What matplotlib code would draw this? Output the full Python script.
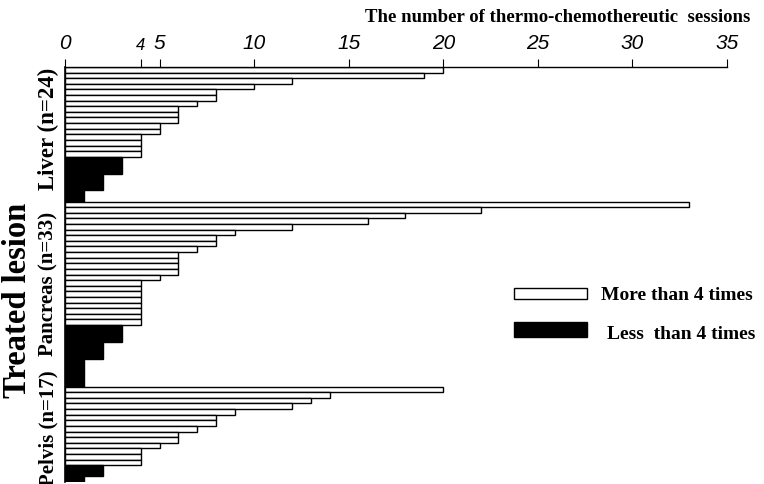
# Number of thermo-chemotherapeutic sessions per treated lesion.

import matplotlib.pyplot as plt
from matplotlib.patches import Rectangle

# sessions per lesion, sorted descending within each site
liver = [20, 19, 12, 10, 8, 8, 7, 6, 6, 6, 5, 5, 4, 4, 4, 4,
         3, 3, 3, 2, 2, 2, 1, 1]
pancreas = [33, 22, 18, 16, 12, 9, 8, 8, 7, 6, 6, 6, 6, 5,
            4, 4, 4, 4, 4, 4, 4, 4, 3, 3, 3, 2, 2, 2, 1, 1, 1, 1, 1]
pelvis = [20, 14, 13, 12, 9, 8, 8, 7, 6, 6, 5, 4, 4, 4, 2, 2, 1]

group_labels = ["Liver (n=24)", "Pancreas (n=33)", "Pelvis (n=17)"]
x_ticks = [0, 4, 5, 10, 15, 20, 25, 30, 35]
THRESHOLD = 4

SERIF = "Liberation Serif"
NARROW = ["Liberation Sans Narrow", "Liberation Sans", "DejaVu Sans"]


def plot_sessions():
    groups = [liver, pancreas, pelvis]
    values = [v for g in groups for v in g]
    positions = list(range(len(values)))

    fig = plt.figure(figsize=(7.64, 4.85), dpi=100)
    W, H = 764, 485
    ax_w = 727 - 65
    ax = fig.add_axes([65 / W, 1 - 483 / H, ax_w / W, (483 - 68) / H])

    colors = ["white" if v >= THRESHOLD else "black" for v in values]
    ax.barh(positions, values, height=1.0, color=colors,
            edgecolor="black", linewidth=1.0)

    ax.set_xlim(0, 35)
    ax.set_ylim(len(values) - 0.5, -0.5)

    for side in ["right", "bottom"]:
        ax.spines[side].set_visible(False)
    ax.spines["top"].set_linewidth(1.0)
    ax.spines["left"].set_linewidth(1.2)

    ax.xaxis.tick_top()
    ax.set_xticks(x_ticks)
    ax.set_xticklabels([str(t) for t in x_ticks], family=NARROW,
                       style="italic", fontsize=15)
    ax.get_xticklabels()[1].set_fontsize(12)
    ax.tick_params(axis="x", direction="out", length=6, width=0.8, pad=5)
    ax.set_yticks([])

    # group labels along the left side (pixel centres)
    label_y = [129, 284, 428]
    label_size = [16.5, 15, 15]
    for label, y, size in zip(group_labels, label_y, label_size):
        fig.text(48 / W, 1 - y / H, label, rotation=90, ha="center",
                 va="center", family=SERIF, fontweight="bold", fontsize=size)

    fig.text(18 / W, 1 - 300 / H, "Treated lesion", rotation=90,
             ha="center", va="center", family=SERIF, fontweight="bold",
             fontsize=23.5)

    fig.text(750 / W, 1 - 17 / H,
             "The number of thermo-chemothereutic  sessions",
             ha="right", va="center", family=SERIF, fontweight="bold",
             fontsize=13.5)

    # legend
    fig.add_artist(Rectangle((514 / W, 1 - 300 / H), 73 / W, 11 / H,
                             transform=fig.transFigure, facecolor="white",
                             edgecolor="black", linewidth=1.0))
    fig.add_artist(Rectangle((514 / W, 1 - 338 / H), 73 / W, 15 / H,
                             transform=fig.transFigure, facecolor="black",
                             edgecolor="black", linewidth=1.0))
    fig.text(601 / W, 1 - 296 / H, "More than 4 times", ha="left",
             va="center", family=SERIF, fontweight="bold", fontsize=14)
    fig.text(607 / W, 1 - 335 / H, "Less  than 4 times", ha="left",
             va="center", family=SERIF, fontweight="bold", fontsize=14)

    fig.savefig("out.png", dpi=100)


if __name__ == "__main__":
    plot_sessions()
